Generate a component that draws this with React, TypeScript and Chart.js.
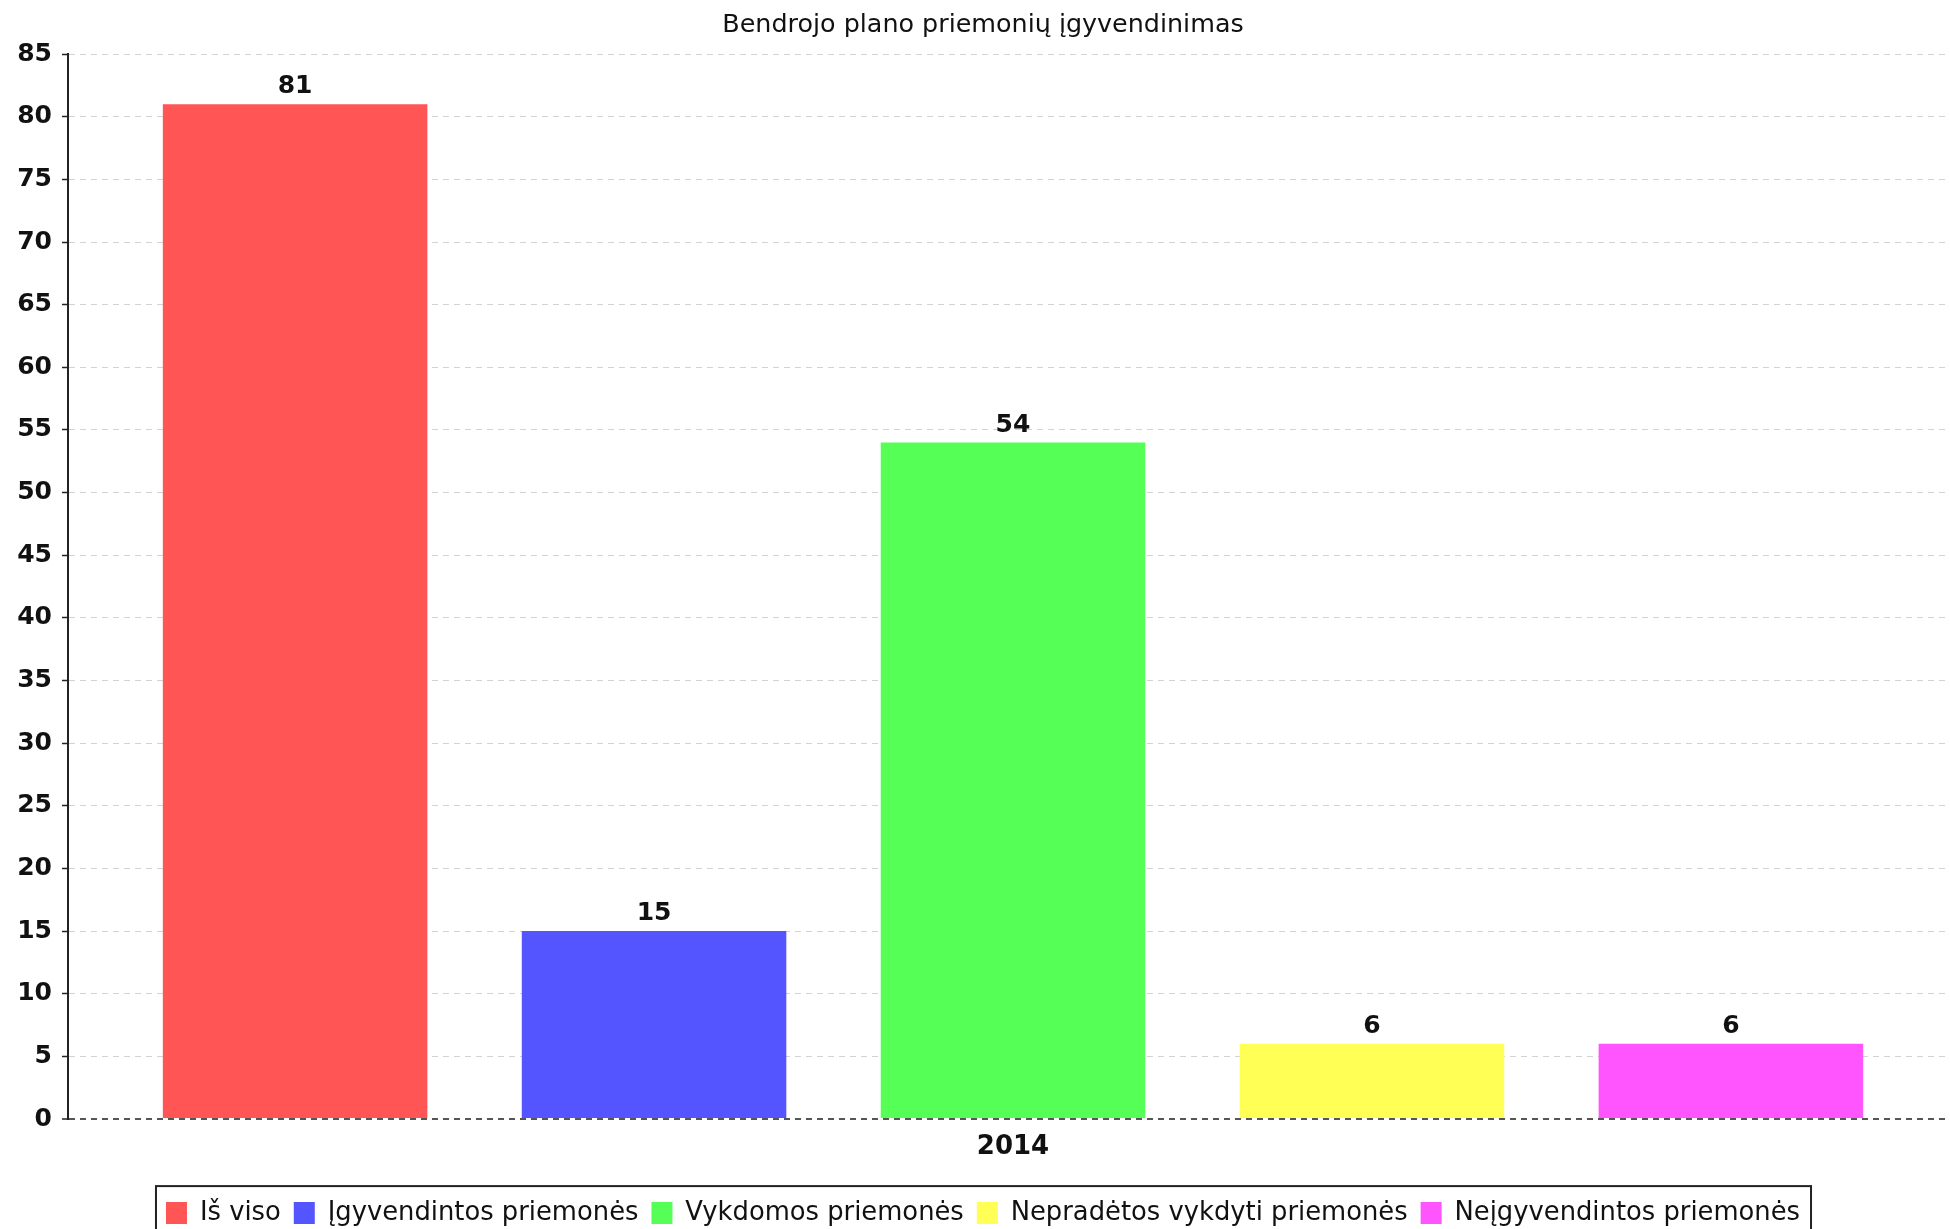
import React, { useEffect, useRef } from "react";
import { Chart, registerables } from "chart.js";

Chart.register(...registerables);

const titleText = "Bendrojo plano priemonių įgyvendinimas";
const categories = ["2014"];
const seriesNames = [
  "Iš viso",
  "Įgyvendintos priemonės",
  "Vykdomos priemonės",
  "Nepradėtos vykdyti priemonės",
  "Neįgyvendintos priemonės",
];
const seriesValues = [81, 15, 54, 6, 6];
const seriesColors = ["#FF5555", "#5555FF", "#55FF55", "#FFFF55", "#FF55FF"];
const yMin = 0;
const yMax = 85;
const yStep = 5;

const FONT = "'DejaVu Sans', sans-serif";

const valueLabels = {
  id: "valueLabels",
  afterDatasetsDraw(chart: any) {
    const ctx = chart.ctx;
    ctx.save();
    ctx.font = `bold 25px ${FONT}`;
    ctx.fillStyle = "#111";
    ctx.textAlign = "center";
    ctx.textBaseline = "alphabetic";
    chart.data.datasets.forEach((ds: any, i: number) => {
      const meta = chart.getDatasetMeta(i);
      meta.data.forEach((el: any, j: number) => {
        ctx.fillText(String(ds.data[j]), el.x, el.y - 11);
      });
    });
    ctx.restore();
  },
};

const legendBorder = {
  id: "legendBorder",
  afterDraw(chart: any) {
    const lg = chart.legend;
    if (!lg || !lg.legendHitBoxes || !lg.legendHitBoxes.length) return;
    const boxes = lg.legendHitBoxes;
    let l = Infinity, r = -Infinity;
    boxes.forEach((b: any) => {
      l = Math.min(l, b.left);
      r = Math.max(r, b.left + b.width);
    });
    const cy = boxes[0].top + boxes[0].height / 2;
    const ctx = chart.ctx;
    ctx.save();
    ctx.strokeStyle = "#222";
    ctx.lineWidth = 2;
    ctx.strokeRect(l - 10, cy - 27, r - l + 21, 54);
    ctx.restore();
  },
};

export default function App() {
  const ref = useRef<HTMLCanvasElement | null>(null);

  useEffect(() => {
    document.body.style.margin = "0";
    document.body.style.overflow = "hidden";
    const canvas = ref.current;
    if (!canvas) return;
    const chart = new Chart(canvas, {
      type: "bar",
      data: {
        labels: categories,
        datasets: seriesNames.map((name, i) => ({
          label: name,
          data: [seriesValues[i]],
          backgroundColor: seriesColors[i],
          borderWidth: 0,
          categoryPercentage: 0.9496,
          barPercentage: 0.737,
        })),
      },
      options: {
        animation: false,
        responsive: false,
        devicePixelRatio: 1,
        layout: { padding: { left: 8, right: 11, top: 0, bottom: 4 } },
        plugins: {
          title: {
            display: true,
            text: titleText,
            color: "#111",
            font: { family: FONT, size: 25.4, weight: "normal" },
            padding: { top: 10.5, bottom: 13.2 },
          },
          legend: {
            position: "bottom",
            labels: {
              boxWidth: 21,
              boxHeight: 22,
              padding: 13,
              color: "#111",
              font: { family: FONT, size: 25.8 },
            },
          },
          tooltip: { enabled: false },
        },
        scales: {
          x: {
            grid: { display: false, drawTicks: false },
            border: { display: false },
            afterFit: (scale: any) => {
              scale.height = scale.height + 11;
            },
            ticks: {
              color: "#111",
              padding: 13,
              font: { family: FONT, size: 26, weight: "bold" },
            },
          },
          y: {
            min: yMin,
            max: yMax,
            afterFit: (scale: any) => {
              scale.width = 60;
            },
            ticks: {
              stepSize: yStep,
              color: "#111",
              padding: 10,
              font: { family: FONT, size: 25, weight: "bold" },
            },
            grid: {
              color: (c: any) => (c.tick && c.tick.value === 0 ? "#555" : "#d2d2d2"),
              lineWidth: (c: any) => (c.tick && c.tick.value === 0 ? 2 : 1),
              tickLength: 6,
              tickColor: "#222",
              tickWidth: 1.5,
              tickBorderDash: [],
            },
            border: {
              display: true,
              color: "#222",
              width: 2,
              dash: [6, 5],
            },
          },
        },
      },
      plugins: [valueLabels, legendBorder],
    });
    return () => chart.destroy();
  }, []);

  return (
    <div style={{ width: 1950, height: 1229, overflow: "hidden", position: "relative", background: "#fff" }}>
      <canvas ref={ref} width={1969} height={1240} style={{ width: 1969, height: 1240, display: "block" }} />
    </div>
  );
}
